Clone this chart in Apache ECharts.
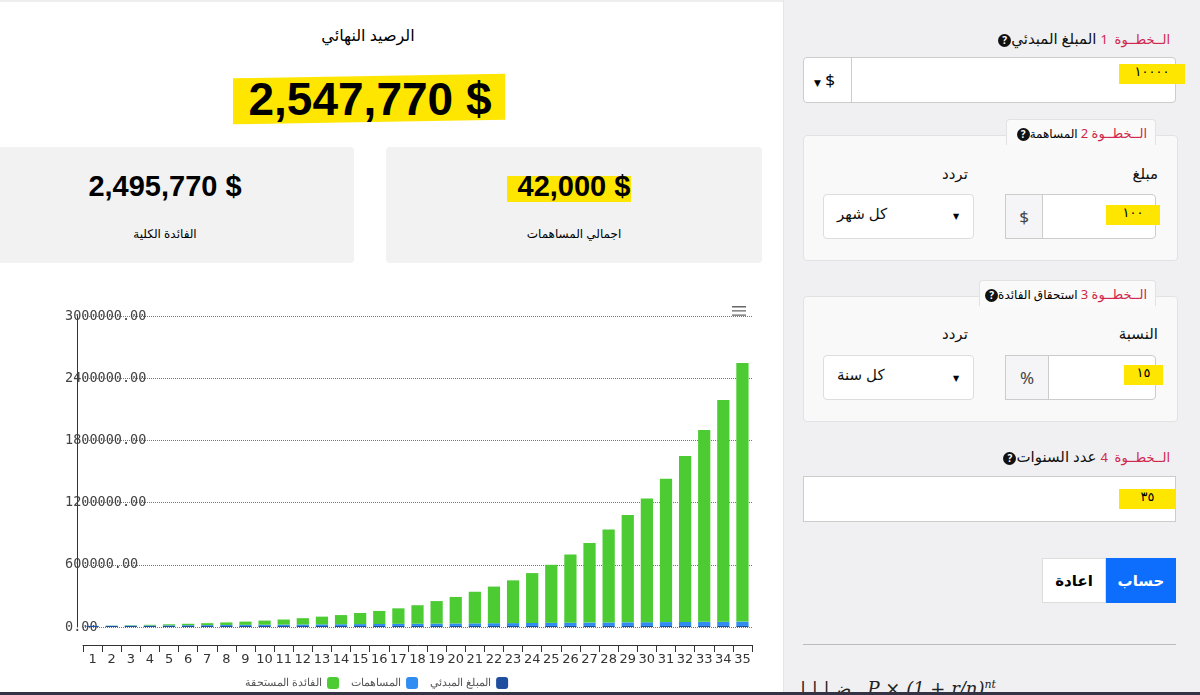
<!DOCTYPE html>
<html><head><meta charset="utf-8">
<script src="https://cdn.jsdelivr.net/npm/echarts@6/dist/echarts.min.js"></script>
<style>
body{margin:0;width:1200px;height:695px;overflow:hidden;font-family:"Noto Sans","DejaVu Sans",sans-serif;background:#fff;position:relative}
.abs{position:absolute}
.card{background:#f2f2f2;border-radius:4px}
.panel{left:783px;top:0;width:417px;height:695px;background:#f0f0f2;border-left:1px solid #e5e5e5}
.step{color:#d0264b;font-size:13px}
.lbl{font-size:15px;color:#111;direction:rtl;white-space:nowrap}
.inp{background:#fff;border:1px solid #ccc;border-radius:4px;box-sizing:border-box}
.hl{background:#ffe600;font-size:13px;font-family:"DejaVu Sans"}
.q{display:inline-block;width:13px;height:13px;border-radius:50%;background:#111;color:#fff;font-size:10px;text-align:center;line-height:13px;font-weight:bold}
.box{background:#f9f9f9;border:1px solid #e2e2e2;border-radius:4px}
.tab{background:#fafafa;border:1px solid #e2e2e2;border-bottom:none;border-radius:4px 4px 0 0;font-size:12px;direction:rtl;padding:4px 8px;white-space:nowrap;box-sizing:border-box;height:26px}
</style></head><body>
<div class="abs" style="left:0;top:0;width:783px;height:2px;background:#eee"></div>
<div class="abs" style="left:268px;top:24px;width:200px;text-align:center;font-size:16px">الرصيد النهائي</div>
<div class="abs" style="left:233px;top:76px;height:46px;width:272px;background:#ffe600;transform:skewY(-1deg)"></div>
<div class="abs" style="left:220px;top:70px;width:300px;text-align:center;font-size:46px;font-weight:bold;font-family:Arial,'Liberation Sans';line-height:58px">2,547,770 $</div>
<div class="abs card" style="left:-10px;top:147px;width:364px;height:116px"></div>
<div class="abs card" style="left:386px;top:147px;width:376px;height:116px"></div>
<div class="abs" style="left:0;top:170px;width:330px;text-align:center;font-size:29px;font-weight:bold;font-family:Arial,'Liberation Sans'">2,495,770 $</div>
<div class="abs" style="left:0;top:225px;width:330px;text-align:center;font-size:12px">الفائدة الكلية</div>
<div class="abs" style="left:507px;top:176px;width:124px;height:26px;background:#ffe600"></div>
<div class="abs" style="left:386px;top:170px;width:376px;text-align:center;font-size:29px;font-weight:bold;font-family:Arial,'Liberation Sans'">42,000 $</div>
<div class="abs" style="left:386px;top:225px;width:376px;text-align:center;font-size:12px">اجمالي المساهمات</div>

<div class="abs panel"></div>
<div class="abs lbl" style="right:30px;top:28px"><span class="step">الــخطــوة &nbsp;1</span> المبلغ المبدئي<span class="q">?</span></div>
<div class="abs inp" style="left:803px;top:57px;width:373px;height:46px"></div>
<div class="abs" style="left:851px;top:57px;width:1px;height:46px;background:#ccc"></div>
<div class="abs" style="left:814px;top:68px;font-size:17px"><span style="font-size:9px">▼</span> $</div>
<div class="abs hl" style="left:1119px;top:64px;width:66px;height:20px;text-align:center">١٠٠٠٠</div>

<div class="abs box" style="left:803px;top:135px;width:373px;height:124px"></div>
<div class="abs tab" style="left:1006px;top:119px;width:150px">
<span class="step">الــخطــوة 2</span> المساهمة<span class="q">?</span></div>
<div class="abs lbl" style="right:42px;top:163px">مبلغ</div>
<div class="abs lbl" style="left:942px;top:163px">تردد</div>
<div class="abs inp" style="left:1005px;top:194px;width:151px;height:45px"></div>
<div class="abs" style="left:1005px;top:194px;width:38px;height:45px;background:#f5f5f7;border:1px solid #ccc;box-sizing:border-box;text-align:center;line-height:43px;font-size:17px;color:#444">$</div>
<div class="abs hl" style="left:1106px;top:205px;width:54px;height:20px;text-align:center">١٠٠</div>
<div class="abs inp" style="left:823px;top:194px;width:151px;height:45px;border-color:#ddd"></div>
<div class="abs lbl" style="left:837px;top:203px">كل شهر</div>
<div class="abs" style="left:953px;top:210px;font-size:8px">▼</div>

<div class="abs box" style="left:803px;top:296px;width:373px;height:124px"></div>
<div class="abs tab" style="left:979px;top:280px;width:177px">
<span class="step">الــخطــوة 3</span> استحقاق الفائدة<span class="q">?</span></div>
<div class="abs lbl" style="right:42px;top:323px">النسبة</div>
<div class="abs lbl" style="left:942px;top:323px">تردد</div>
<div class="abs inp" style="left:1005px;top:355px;width:151px;height:45px"></div>
<div class="abs" style="left:1005px;top:355px;width:44px;height:45px;background:#f5f5f7;border:1px solid #ccc;box-sizing:border-box;text-align:center;line-height:43px;font-size:17px;color:#444">%</div>
<div class="abs hl" style="left:1124px;top:365px;width:39px;height:20px;text-align:center">١٥</div>
<div class="abs inp" style="left:823px;top:355px;width:151px;height:45px;border-color:#ddd"></div>
<div class="abs lbl" style="left:837px;top:364px">كل سنة</div>
<div class="abs" style="left:953px;top:372px;font-size:8px">▼</div>

<div class="abs lbl" style="right:30px;top:446px"><span class="step">الــخطــوة &nbsp;4</span> عدد السنوات<span class="q">?</span></div>
<div class="abs inp" style="left:803px;top:476px;width:373px;height:46px;border-radius:0"></div>
<div class="abs hl" style="left:1119px;top:489px;width:57px;height:20px;text-align:center">٣٥</div>

<div class="abs" style="left:1042px;top:558px;width:64px;height:45px;background:#fff;border:1px solid #ddd;box-sizing:border-box;text-align:center;line-height:43px;font-weight:bold;font-size:15px">اعادة</div>
<div class="abs" style="left:1106px;top:558px;width:70px;height:45px;background:#0d6efd;color:#fff;text-align:center;line-height:45px;font-weight:bold;font-size:15px">حساب</div>
<div class="abs" style="left:803px;top:644px;width:373px;height:1px;background:#bbb"></div>
<div class="abs" style="left:800px;top:678px;font-size:18px;font-family:'DejaVu Serif';font-style:italic;color:#222">| | | ﺿ &nbsp; P × (1 + r/n)<sup style="font-size:11px">nt</sup></div>
<div class="abs" style="left:0;top:692px;width:1200px;height:3px;background:#334"></div>

<div id="c" class="abs" style="left:0;top:285px;width:783px;height:407px"></div>
<script>
var years=['1','2','3','4','5','6','7','8','9','10','11','12','13','14','15','16','17','18','19','20','21','22','23','24','25','26','27','28','29','30','31','32','33','34','35'];
var initial=[10000,10000,10000,10000,10000,10000,10000,10000,10000,10000,10000,10000,10000,10000,10000,10000,10000,10000,10000,10000,10000,10000,10000,10000,10000,10000,10000,10000,10000,10000,10000,10000,10000,10000,10000];
var contributions=[1200,2400,3600,4800,6000,7200,8400,9600,10800,12000,13200,14400,15600,16800,18000,19200,20400,21600,22800,24000,25200,26400,27600,28800,30000,31200,32400,33600,34800,36000,37200,38400,39600,40800,42000];
var interest=[300,1600,3400,6200,10000,13800,18600,24400,31200,40000,48800,60600,74400,88200,107000,125800,149600,178400,217200,256000,304800,353600,412400,481200,560000,658800,767600,896400,1035200,1194000,1382800,1601600,1850400,2139200,2495770];
var chart=echarts.init(document.getElementById('c'));
chart.setOption({
 animation:false,
 toolbox:{right:22,top:6,feature:{myMenu:{show:true,title:'',icon:'path://M0,0H20V2H0ZM0,6H20V8H0ZM0,12H20V14H0Z',onclick:function(){}}},iconStyle:{borderColor:'#666',color:'#666',borderWidth:0},itemSize:14},
 legend:{bottom:-2,left:240,align:'right',itemWidth:12,itemHeight:12,itemGap:12,textStyle:{fontSize:11,color:'#555'},data:['الفائدة المستحقة','المساهمات','المبلغ المبدئي']},
 grid:{left:83,right:31,top:31,bottom:65},
 xAxis:{type:'category',data:years,offset:18,axisLine:{show:true,onZero:false,lineStyle:{color:'#333'}},axisTick:{show:true,inside:false,length:7,lineStyle:{color:'#333',width:1}},axisLabel:{color:'#333',fontSize:13,fontFamily:'DejaVu Sans',margin:8,interval:0}},
 yAxis:{type:'value',min:0,max:3000000,interval:600000,offset:6,axisLine:{show:true,lineStyle:{color:'#333'}},
  axisLabel:{align:'left',margin:12,color:'#444',fontFamily:'DejaVu Sans Mono',fontSize:13.5,formatter:function(v){return v.toFixed(2)}},
  splitLine:{lineStyle:{type:'dotted',color:'#777'}}},
 series:[
  {name:'المبلغ المبدئي',type:'bar',stack:'t',data:initial,itemStyle:{color:'#1f4e9e'},barWidth:'64%'},
  {name:'المساهمات',type:'bar',stack:'t',data:contributions,itemStyle:{color:'#2f8cf0'}},
  {name:'الفائدة المستحقة',type:'bar',stack:'t',data:interest,itemStyle:{color:'#4ccb32'}}
 ]
});
</script>
</body></html>
